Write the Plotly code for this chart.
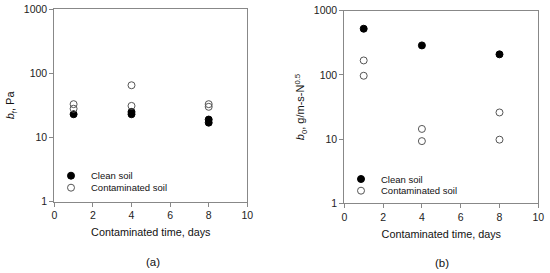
import plotly.graph_objects as go

# Panel (a): b_f, Pa
a_clean_x = [1, 4, 4, 8, 8]
a_clean_y = [23, 23, 25, 19, 17]
a_cont_x = [1, 1, 4, 4, 8, 8]
a_cont_y = [33, 28, 65, 31, 33, 30]

# Panel (b): b_0, g/m-s-N^0.5
b_clean_x = [1, 4, 8]
b_clean_y = [524, 288, 209]
b_cont_x = [1, 1, 4, 4, 8, 8]
b_cont_y = [168, 97, 14.4, 9.3, 26, 9.8]

x_ticks = [0, 2, 4, 6, 8, 10]
y_ticks = [1, 10, 100, 1000]
series_names = ["Clean soil", "Contaminated soil"]
x_title = "Contaminated time, days"
ya_title = "<i>b</i><sub>f</sub>, Pa"
yb_title = "<i>b</i><sub>0</sub>, g/m-s-N<sup>0.5</sup>"
captions = ["(a)", "(b)"]

W, H = 550, 273
FONT = "Liberation Sans, Arial, sans-serif"
filled = dict(symbol="circle", size=7, color="black", line=dict(color="black", width=1))
hollow = dict(symbol="circle-open", size=7, color="#555555", line=dict(color="#555555", width=1))

fig = go.Figure()
fig.add_trace(go.Scatter(x=a_clean_x, y=a_clean_y, mode="markers", marker=filled,
                         name=series_names[0], xaxis="x", yaxis="y", legend="legend"))
fig.add_trace(go.Scatter(x=a_cont_x, y=a_cont_y, mode="markers", marker=hollow,
                         name=series_names[1], xaxis="x", yaxis="y", legend="legend2"))
fig.add_trace(go.Scatter(x=b_clean_x, y=b_clean_y, mode="markers", marker=filled,
                         name=series_names[0], xaxis="x2", yaxis="y2", legend="legend3"))
fig.add_trace(go.Scatter(x=b_cont_x, y=b_cont_y, mode="markers", marker=hollow,
                         name=series_names[1], xaxis="x2", yaxis="y2", legend="legend4"))

axis_common = dict(showline=True, linecolor="#888888", linewidth=1, mirror=True,
                   ticks="outside", ticklen=4, tickcolor="#888888", showgrid=False,
                   zeroline=False, automargin=False,
                   tickfont=dict(family=FONT, size=10.5, color="#222222"))

title_font = dict(family=FONT, size=10.8, color="#111111")
xcommon = dict(axis_common, range=[0, 10], tickvals=x_ticks,
               title=dict(text=x_title, font=title_font, standoff=8))
ycommon = dict(axis_common, type="log", range=[0, 3], tickvals=y_ticks,
               ticktext=[str(v) for v in y_ticks])
ytitle_font = dict(family=FONT, size=11, color="#111111")


def leg(xpx, ypx):
    # legend box placed so that its item is centred near (xpx, ypx) in pixels
    return dict(x=xpx / W, y=1 - ypx / H, xanchor="left", yanchor="middle",
                bgcolor="rgba(0,0,0,0)", borderwidth=0,
                font=dict(family=FONT, size=9.5, color="#111111"))


fig.update_layout(
    width=W, height=H,
    margin=dict(l=0, r=0, t=0, b=0, autoexpand=False),
    paper_bgcolor="white", plot_bgcolor="white",
    xaxis=dict(xcommon, domain=[54.3 / W, 247.3 / W], anchor="y"),
    yaxis=dict(ycommon, domain=[1 - 201.7 / H, 1 - 9 / H], anchor="x",
               title=dict(text=ya_title, font=ytitle_font, standoff=6)),
    xaxis2=dict(xcommon, domain=[344.3 / W, 538.3 / W], anchor="y2"),
    yaxis2=dict(ycommon, domain=[1 - 203.3 / H, 1 - 10.7 / H], anchor="x2",
                title=dict(text=yb_title, font=ytitle_font, standoff=6)),
    legend=leg(51, 175.7),
    legend2=leg(51, 187.7),
    legend3=leg(341, 179),
    legend4=leg(341, 190.7),
    showlegend=True,
    annotations=[
        dict(text=captions[0], x=153 / W, y=1 - 261.5 / H, xref="paper", yref="paper",
             xanchor="center", yanchor="middle",
             showarrow=False, font=dict(family=FONT, size=11.5, color="#111111")),
        dict(text=captions[1], x=441.7 / W, y=1 - 263 / H, xref="paper", yref="paper",
             xanchor="center", yanchor="middle",
             showarrow=False, font=dict(family=FONT, size=11.5, color="#111111")),
    ],
)

fig.write_html("out.html", config={"displayModeBar": False},
               post_script="document.body.style.margin='0';document.body.style.padding='0';")
